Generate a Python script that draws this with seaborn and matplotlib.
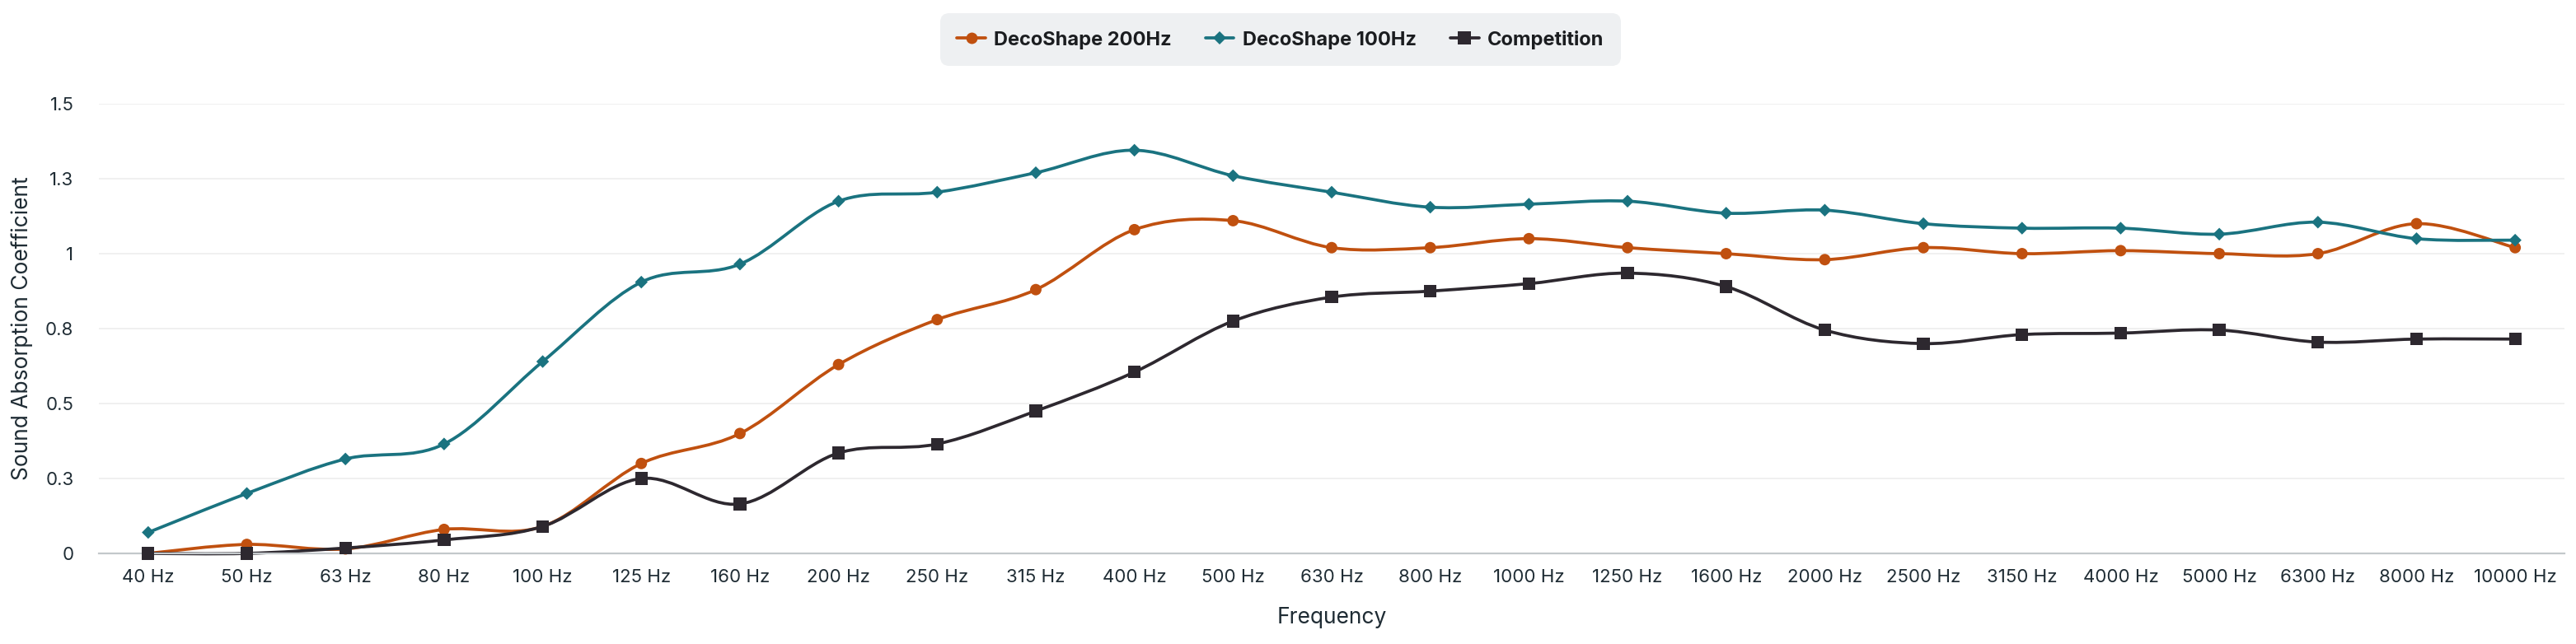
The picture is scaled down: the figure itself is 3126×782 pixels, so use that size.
"""
    sound absorption chart
"""

import numpy as np
import pandas as pd
import matplotlib
matplotlib.use("Agg")
import matplotlib.pyplot as plt
import seaborn as sns
from matplotlib.path import Path
from matplotlib.patches import PathPatch
from matplotlib.lines import Line2D

frequencies = ["40 Hz", "50 Hz", "63 Hz", "80 Hz", "100 Hz", "125 Hz", "160 Hz",
               "200 Hz", "250 Hz", "315 Hz", "400 Hz", "500 Hz", "630 Hz", "800 Hz",
               "1000 Hz", "1250 Hz", "1600 Hz", "2000 Hz", "2500 Hz", "3150 Hz",
               "4000 Hz", "5000 Hz", "6300 Hz", "8000 Hz", "10000 Hz"]

deco_200 = [0.0, 0.03, 0.015, 0.08, 0.09, 0.3, 0.4, 0.63, 0.78, 0.88, 1.08, 1.11,
            1.02, 1.02, 1.05, 1.02, 1.0, 0.98, 1.02, 1.0, 1.01, 1.0, 1.0, 1.1, 1.02]

deco_100 = [0.07, 0.2, 0.315, 0.365, 0.64, 0.905, 0.965, 1.175, 1.205, 1.27, 1.345,
            1.26, 1.205, 1.155, 1.165, 1.175, 1.135, 1.145, 1.1, 1.085, 1.085, 1.065,
            1.105, 1.05, 1.045]

competition = [0.0, 0.0, 0.018, 0.045, 0.09, 0.25, 0.165, 0.335, 0.365, 0.475, 0.605,
               0.775, 0.855, 0.875, 0.9, 0.935, 0.89, 0.745, 0.7, 0.73, 0.735, 0.745,
               0.705, 0.715, 0.715]

series_names = ["DecoShape 200Hz", "DecoShape 100Hz", "Competition"]
y_ticks = [0, 0.25, 0.5, 0.75, 1.0, 1.25, 1.5]
y_tick_labels = ["0", "0.3", "0.5", "0.8", "1", "1.3", "1.5"]

colors = {"DecoShape 200Hz": "#c0500f", "DecoShape 100Hz": "#1a7380", "Competition": "#2d282f"}
markers = {"DecoShape 200Hz": "o", "DecoShape 100Hz": "D", "Competition": "s"}
sizes = {"DecoShape 200Hz": 100, "DecoShape 100Hz": 62, "Competition": 121}
text_color = "#1f2c34"


def smooth_path(xs, ys):
    # catmull-rom spline through the points, drawn as cubic bezier segments
    pts = np.column_stack([xs, ys]).astype(float)
    ext = np.vstack([pts[0], pts, pts[-1]])
    verts = [pts[0]]
    codes = [Path.MOVETO]
    for i in range(len(pts) - 1):
        p0, p1, p2, p3 = ext[i], ext[i + 1], ext[i + 2], ext[i + 3]
        verts += [p1 + (p2 - p0) / 6, p2 - (p3 - p1) / 6, p2]
        codes += [Path.CURVE4] * 3
    return Path(verts, codes)


pos = np.arange(len(frequencies))
df = pd.DataFrame({
    "pos": np.tile(pos, 3),
    "value": deco_200 + deco_100 + competition,
    "series": np.repeat(series_names, len(frequencies)),
})

sns.set_theme(style="white")
plt.rcParams["font.family"] = ["Inter", "DejaVu Sans"]

fig = plt.figure(figsize=(31.26, 7.82), dpi=100)
ax = fig.add_axes([120 / 3126, 110 / 782, 2992 / 3126, 546 / 782])

for name in series_names:
    sub = df[df["series"] == name]
    patch = PathPatch(smooth_path(sub["pos"], sub["value"]), facecolor="none",
                      edgecolor=colors[name], lw=2.7, zorder=2, clip_on=False)
    ax.add_patch(patch)

sns.scatterplot(data=df, x="pos", y="value", hue="series", style="series", size="series",
                palette=colors, markers=markers, sizes=sizes, linewidth=0,
                legend=False, ax=ax, zorder=3)
for coll in ax.collections:
    coll.set_clip_on(False)

ax.set_xlim(-0.5, len(frequencies) - 0.5)
ax.set_ylim(0, 1.5)
ax.set_xticks(pos)
ax.set_xticklabels(frequencies)
ax.set_yticks(y_ticks)
ax.set_yticklabels(y_tick_labels)
ax.tick_params(axis="both", length=0, labelsize=16, colors=text_color)
ax.tick_params(axis="x", pad=14)
ax.tick_params(axis="y", pad=22)
ax.yaxis.grid(True, color="#efefef", lw=1.3)
ax.xaxis.grid(False)
for side in ["top", "right", "left"]:
    ax.spines[side].set_visible(False)
ax.spines["bottom"].set_color("#c3c8cb")
ax.spines["bottom"].set_linewidth(1.6)

ax.set_xlabel("Frequency", fontsize=19, color=text_color, va="center")
ax.xaxis.set_label_coords(0.5, -0.142)
ax.set_ylabel("Sound Absorption Coefficient", fontsize=19, color=text_color, va="center")
ax.yaxis.set_label_coords(-0.031, 0.5)

handles = [Line2D([0], [0], color=colors[n], marker=markers[n], lw=2.7,
                  markersize=np.sqrt(sizes[n]), markeredgewidth=0) for n in series_names]
leg = fig.legend(handles, series_names, loc="center", bbox_to_anchor=(1554 / 3126, 1 - 48 / 782),
                 ncol=3, frameon=True, facecolor="#eef0f2", edgecolor="none", fancybox=True,
                 prop={"weight": "bold", "size": 17}, handlelength=1.45, handletextpad=0.45,
                 columnspacing=1.75, borderpad=0.85, framealpha=1)
leg.get_frame().set_boxstyle("round,pad=0,rounding_size=0.45")
for t in leg.get_texts():
    t.set_color("#1b1d20")

fig.savefig("out.png", dpi=100)
